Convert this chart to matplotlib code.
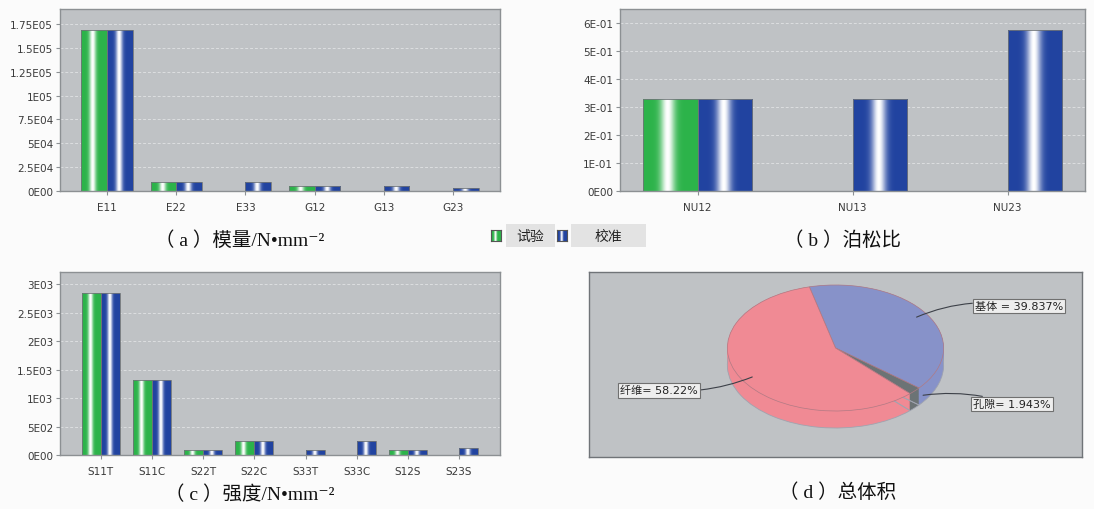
import matplotlib.pyplot as plt
import matplotlib.colors as mcolors
import numpy as np

plt.rcParams['font.family'] = ['DejaVu Sans', 'Noto Sans CJK SC']

# (a) moduli
mod_cats = ['E11', 'E22', 'E33', 'G12', 'G13', 'G23']
mod_test = [169000, 9500, 0, 5500, 0, 0]
mod_calib = [169000, 9500, 9500, 5500, 5500, 3500]
mod_ticks = [0, 25000, 50000, 75000, 100000, 125000, 150000, 175000]
mod_ticklabels = ['0E00', '2.5E04', '5E04', '7.5E04', '1E05', '1.25E05', '1.5E05', '1.75E05']

# (b) Poisson ratios
nu_cats = ['NU12', 'NU13', 'NU23']
nu_test = [0.33, 0, 0]
nu_calib = [0.33, 0.33, 0.576]
nu_ticks = [0, 0.1, 0.2, 0.3, 0.4, 0.5, 0.6]
nu_ticklabels = ['0E00', '1E-01', '2E-01', '3E-01', '4E-01', '5E-01', '6E-01']

# (c) strengths
str_cats = ['S11T', 'S11C', 'S22T', 'S22C', 'S33T', 'S33C', 'S12S', 'S23S']
str_test = [2845, 1315, 83, 241, 0, 0, 95, 0]
str_calib = [2845, 1315, 83, 241, 83, 241, 95, 118]
str_ticks = [0, 500, 1000, 1500, 2000, 2500, 3000]
str_ticklabels = ['0E00', '5E02', '1E03', '1.5E03', '2E03', '2.5E03', '3E03']

# (d) volume fractions
vol_names = ['基体', '孔隙', '纤维']
vol_pct = [39.837, 1.943, 58.22]
vol_labels = ['基体 = 39.837%', '孔隙= 1.943%', '纤维= 58.22%']

W, H = 1094, 510
fig = plt.figure(figsize=(W / 100, H / 100), dpi=100)
fig.patch.set_facecolor('#fbfbfb')

PLOT_BG = '#bfc2c5'


def px_axes(x0, y0, x1, y1):
    return fig.add_axes([x0 / W, 1 - y1 / H, (x1 - x0) / W, (y1 - y0) / H])


def shine_cmap(base, peak):
    t = np.linspace(0, 1, 200)
    w = np.exp(-((t - peak) / 0.13) ** 2)
    rgb = np.array(mcolors.to_rgb(base))
    cols = rgb[None, :] * (1 - w[:, None]) + w[:, None]
    return mcolors.ListedColormap(cols)


green_cm = shine_cmap('#2cb34a', 0.45)
blue_cm = shine_cmap('#2143a0', 0.47)
grad = np.linspace(0, 1, 200)[None, :]


def shaded_bars(ax, x, vals, width, cmap):
    bars = ax.bar(x, vals, width, facecolor='none', edgecolor='#6f7478',
                  linewidth=0.6, zorder=3)
    for b in bars:
        if b.get_height() <= 0:
            b.set_visible(False)
            continue
        x0, y0 = b.get_x(), b.get_y()
        im = ax.imshow(grad, cmap=cmap, aspect='auto', zorder=2,
                       extent=(x0, x0 + b.get_width(), y0, y0 + b.get_height()))
        im.set_clip_path(b)


def bar_panel(box, cats, test, calib, ticks, ticklabels, ytop, margin, width):
    ax = px_axes(*box)
    ax.set_facecolor(PLOT_BG)
    x = np.arange(len(cats))
    shaded_bars(ax, x - width / 2, test, width, green_cm)
    shaded_bars(ax, x + width / 2, calib, width, blue_cm)
    ax.set_xlim(-margin, len(cats) - 1 + margin)
    ax.set_ylim(0, ytop)
    ax.set_xticks(x, cats)
    ax.set_yticks(ticks, ticklabels)
    for t in ticks[1:]:
        ax.axhline(t, color='#dcdee0', lw=0.7, ls=(0, (3, 2)), zorder=1)
    for s in ax.spines.values():
        s.set_color('#8c9093')
        s.set_linewidth(1.0)
    ax.tick_params(labelsize=7.5, colors='#8c9093', labelcolor='#3a3a3a',
                   length=3, width=0.8, pad=2)
    ax.tick_params(axis='x', pad=5)
    return ax


bar_panel((60, 10, 500, 192), mod_cats, mod_test, mod_calib,
          mod_ticks, mod_ticklabels, 190700, 0.68, 0.37)
bar_panel((620, 10, 1085, 192), nu_cats, nu_test, nu_calib,
          nu_ticks, nu_ticklabels, 0.651, 0.5, 0.35)
bar_panel((60, 273, 500, 456), str_cats, str_test, str_calib,
          str_ticks, str_ticklabels, 3217, 0.8, 0.37)

# 3D pie: stacked layers for the rim, then the top face
axp = px_axes(589, 273, 1082, 458)
axp.set_facecolor(PLOT_BG)
pie_cols = ['#8792c9', '#6c7375', '#f08a94']
depth = 0.27
for dz in np.linspace(-depth, 0, 28):
    axp.pie(vol_pct, colors=pie_cols, startangle=104, counterclock=False,
            center=(0, dz), radius=1, frame=True,
            wedgeprops=dict(linewidth=0, antialiased=True))
axp.pie(vol_pct, colors=pie_cols, startangle=104, counterclock=False,
        center=(0, -depth), radius=1, frame=True,
        wedgeprops=dict(linewidth=0.6, edgecolor='#a0a4b0', fill=False))
axp.pie(vol_pct, colors=pie_cols, startangle=104, counterclock=False,
        center=(0, 0), radius=1, frame=True,
        wedgeprops=dict(linewidth=0.5, edgecolor='#b07a84'))
axp.set_aspect('auto')
axp.set_xlim(-2.28, 2.28)
axp.set_ylim(-1.73, 1.206)
axp.set_xticks([])
axp.set_yticks([])
for s in axp.spines.values():
    s.set_visible(True)
    s.set_color('#707478')
    s.set_linewidth(1.0)

box_style = dict(boxstyle='square,pad=0.2', fc='#eeeeee', ec='#707070', lw=0.8)
label_pos = [(1.29, 0.67), (1.27, -0.89), (-1.99, -0.67)]
anchor = [(0.75, 0.49), (0.81, -0.75), (-0.77, -0.46)]
label_rad = [0.15, 0.12, 0.12]
for i, lab in enumerate(vol_labels):
    axp.annotate(lab, xy=anchor[i], xytext=label_pos[i], ha='left',
                 va='center', fontsize=8, color='#222222', bbox=box_style,
                 arrowprops=dict(arrowstyle='-', color='#3c4048', lw=0.8,
                                 connectionstyle='arc3,rad=%s' % label_rad[i],
                                 shrinkA=0, shrinkB=0))

# captions
cap_font = ['Liberation Serif', 'Noto Sans CJK SC', 'DejaVu Serif']
captions = [('（ a ）模量/N•mm⁻²', 240, 241), ('（ b ）泊松比', 843, 241),
            ('（ c ）强度/N•mm⁻²', 250, 495), ('（ d ）总体积', 838, 493)]
for txt, cx, cy in captions:
    fig.text(cx / W, 1 - cy / H, txt, ha='center', va='center',
             fontsize=14, family=cap_font, color='#111111')

# shared legend
leg_items = [('试验', green_cm, 496, 506, 555), ('校准', blue_cm, 562, 571, 646)]
for name, cm, sx, bx0, bx1 in leg_items:
    sw = px_axes(sx - 5, 231, sx + 5, 242)
    sw.imshow(grad, cmap=cm, aspect='auto')
    sw.set_xticks([])
    sw.set_yticks([])
    for s in sw.spines.values():
        s.set_color('#555555')
    fig.patches.append(plt.Rectangle((bx0 / W, 1 - 248 / H), (bx1 - bx0) / W,
                                     23 / H, transform=fig.transFigure,
                                     fc='#e3e3e3', ec='none'))
    fig.text((bx0 + bx1) / 2 / W, 1 - 236.5 / H, name, ha='center',
             va='center', fontsize=10, color='#222222')

fig.savefig('out.png', dpi=100, facecolor=fig.get_facecolor())
